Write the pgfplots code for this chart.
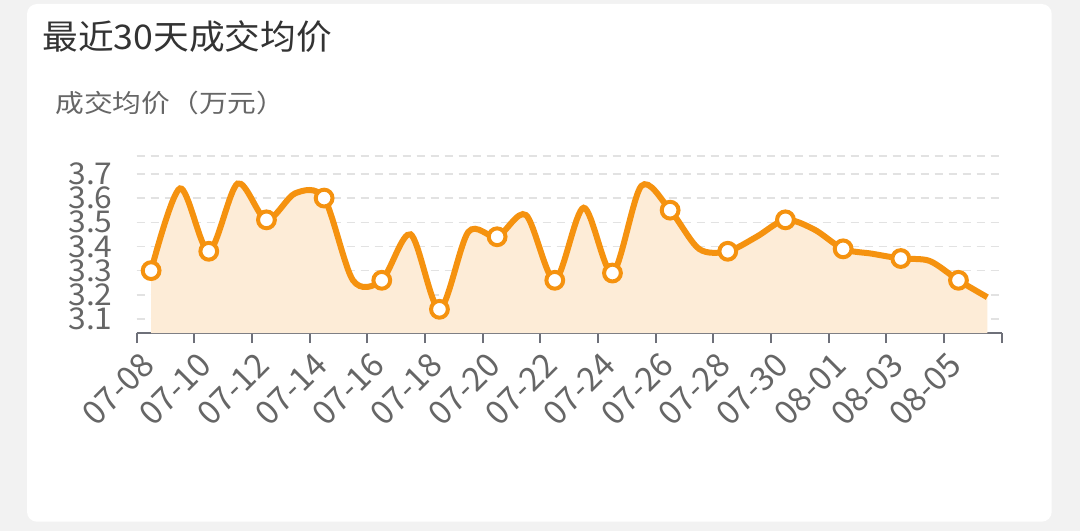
\documentclass[border=0pt]{standalone}
\usepackage{fontspec}
\setmainfont{Noto Sans CJK SC}
\usepackage{pgfplots}
\pgfplotsset{compat=1.18}
\definecolor{lineor}{RGB}{245,146,15}
\definecolor{fillmid}{RGB}{253,236,215}
\definecolor{gridc}{RGB}{226,226,226}
\definecolor{axc}{RGB}{110,112,121}
\definecolor{labc}{RGB}{102,102,102}
\definecolor{titc}{RGB}{51,51,51}
\definecolor{bgc}{RGB}{242,242,242}
\pgfplotstableread{
x y
0 3.30
1 3.64
2 3.38
3 3.66
4 3.51
5 3.62
6 3.60
7 3.26
8 3.26
9 3.45
10 3.14
11 3.46
12 3.44
13 3.53
14 3.26
15 3.56
16 3.29
17 3.65
18 3.55
19 3.39
20 3.38
21 3.44
22 3.51
23 3.47
24 3.39
25 3.37
26 3.35
27 3.34
28 3.26
29 3.19
}\pricedata
\begin{document}
\begin{tikzpicture}
\fill[bgc] (0pt,0pt) rectangle (540pt,265.5pt);
\fill[white, rounded corners=5pt] (13.5pt,4.65pt) rectangle (525.85pt,263.5pt);
\node[anchor=west, font=\fontsize{17}{20}\selectfont, text=titc, xscale=1.05, inner sep=0pt] at (21pt,247pt) {最近30天成交均价};
\node[anchor=west, font=\fontsize{12.5}{15}\selectfont, text=labc, xscale=1.15, inner sep=0pt] at (27.5pt,214pt) {成交均价（万元）};
\begin{axis}[
  at={(68.35pt,99pt)}, anchor=south west,
  width=432.5pt, height=88.5pt, scale only axis,
  xmin=-0.5, xmax=29.5, ymin=3.042, ymax=3.774,
  axis x line*=bottom, axis y line*=left,
  x axis line style={-, draw=axc, line width=1pt},
  y axis line style={draw=none},
  xtick={0,2,...,28},
  xticklabels={07-08,07-10,07-12,07-14,07-16,07-18,07-20,07-22,07-24,07-26,07-28,07-30,08-01,08-03,08-05},
  minor xtick={-0.5,1.5,...,29.5},
  major tick length=0pt, minor tick length=5pt, tick align=outside,
  minor x tick style={draw=axc, line width=1pt},
  ytick={3.1,3.2,3.3,3.4,3.5,3.6,3.7,3.774},
  yticklabels={3.1,3.2,3.3,3.4,3.5,3.6,3.7,{}},
  ytick style={draw=none},
  ymajorgrids,
  major grid style={draw=gridc, line width=0.7pt, dash pattern=on 4pt off 3pt},
  /pgf/number format/assume math mode=true,
  ticklabel style={font=\fontsize{15}{15}\selectfont, text=labc},
  yticklabel style={anchor=east, inner sep=0pt, xshift=-11.85pt, xscale=1.06},
  xticklabel style={font=\fontsize{16.5}{16.5}\selectfont, anchor=east, inner sep=0pt, xshift=-1.5pt, yshift=-13pt, rotate=45},
]
\addplot[fill=fillmid, draw=none, smooth, tension=0.5] table[x=x,y=y] {\pricedata} \closedcycle;
\addplot[draw=lineor, line width=3pt, smooth, tension=0.5, mark=*, mark repeat=2, mark phase=1,
  mark size=4.2pt, mark options={fill=white, draw=lineor, line width=2pt}] table[x=x,y=y] {\pricedata};
\end{axis}
\useasboundingbox (0pt,0pt) rectangle (540pt,265.5pt);
\end{tikzpicture}
\end{document}
